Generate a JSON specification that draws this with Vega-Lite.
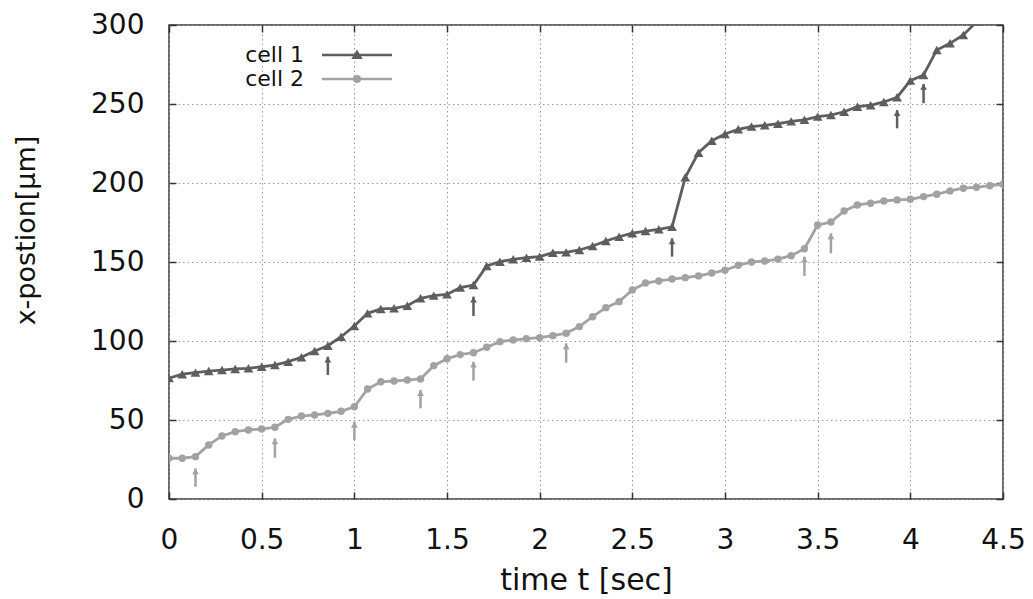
{
  "$schema": "https://vega.github.io/schema/vega-lite/v6.json",
  "width": 834,
  "height": 474,
  "autosize": {"type": "none"},
  "padding": {"left": 169, "top": 25, "right": 30, "bottom": 100},
  "background": "white",
  "config": {
    "view": {"stroke": "#3a3a3a", "strokeWidth": 1.5},
    "font": "DejaVu Sans",
    "axis": {
      "labelFont": "DejaVu Sans",
      "labelFontSize": 28,
      "labelColor": "#111",
      "labelFlush": false,
      "titleFont": "DejaVu Sans",
      "titleFontSize": 28,
      "titleFontWeight": "normal",
      "titleColor": "#111",
      "domain": false,
      "tickColor": "#333",
      "tickWidth": 1.5,
      "tickSize": -7,
      "gridColor": "#9a9a9a",
      "gridDash": [1.5, 3],
      "gridWidth": 1
    }
  },
  "resolve": {"axis": {"x": "independent", "y": "independent"}},
  "datasets": {
    "pos": [
      {"t": 0, "x": 76.5, "cell": "cell 1"},
      {"t": 0.0714, "x": 79, "cell": "cell 1"},
      {"t": 0.1429, "x": 80, "cell": "cell 1"},
      {"t": 0.2143, "x": 81, "cell": "cell 1"},
      {"t": 0.2857, "x": 81.6, "cell": "cell 1"},
      {"t": 0.3571, "x": 82.3, "cell": "cell 1"},
      {"t": 0.4286, "x": 82.7, "cell": "cell 1"},
      {"t": 0.5, "x": 83.7, "cell": "cell 1"},
      {"t": 0.5714, "x": 84.8, "cell": "cell 1"},
      {"t": 0.6429, "x": 86.9, "cell": "cell 1"},
      {"t": 0.7143, "x": 89.7, "cell": "cell 1"},
      {"t": 0.7857, "x": 93.7, "cell": "cell 1"},
      {"t": 0.8571, "x": 97, "cell": "cell 1"},
      {"t": 0.9286, "x": 102.7, "cell": "cell 1"},
      {"t": 1, "x": 109.5, "cell": "cell 1"},
      {"t": 1.0714, "x": 117.5, "cell": "cell 1"},
      {"t": 1.1429, "x": 120.3, "cell": "cell 1"},
      {"t": 1.2143, "x": 120.7, "cell": "cell 1"},
      {"t": 1.2857, "x": 122.3, "cell": "cell 1"},
      {"t": 1.3571, "x": 127, "cell": "cell 1"},
      {"t": 1.4286, "x": 128.7, "cell": "cell 1"},
      {"t": 1.5, "x": 129.5, "cell": "cell 1"},
      {"t": 1.5714, "x": 133.8, "cell": "cell 1"},
      {"t": 1.6429, "x": 135.4, "cell": "cell 1"},
      {"t": 1.7143, "x": 147.5, "cell": "cell 1"},
      {"t": 1.7857, "x": 150.2, "cell": "cell 1"},
      {"t": 1.8571, "x": 151.7, "cell": "cell 1"},
      {"t": 1.9286, "x": 152.7, "cell": "cell 1"},
      {"t": 2, "x": 153.4, "cell": "cell 1"},
      {"t": 2.0714, "x": 155.9, "cell": "cell 1"},
      {"t": 2.1429, "x": 156.1, "cell": "cell 1"},
      {"t": 2.2143, "x": 157.6, "cell": "cell 1"},
      {"t": 2.2857, "x": 160.1, "cell": "cell 1"},
      {"t": 2.3571, "x": 163.3, "cell": "cell 1"},
      {"t": 2.4286, "x": 166, "cell": "cell 1"},
      {"t": 2.5, "x": 168.2, "cell": "cell 1"},
      {"t": 2.5714, "x": 169.6, "cell": "cell 1"},
      {"t": 2.6429, "x": 170.7, "cell": "cell 1"},
      {"t": 2.7143, "x": 172.3, "cell": "cell 1"},
      {"t": 2.7857, "x": 203.6, "cell": "cell 1"},
      {"t": 2.8571, "x": 219.2, "cell": "cell 1"},
      {"t": 2.9286, "x": 226.8, "cell": "cell 1"},
      {"t": 3, "x": 231, "cell": "cell 1"},
      {"t": 3.0714, "x": 234, "cell": "cell 1"},
      {"t": 3.1429, "x": 235.7, "cell": "cell 1"},
      {"t": 3.2143, "x": 236.5, "cell": "cell 1"},
      {"t": 3.2857, "x": 237.5, "cell": "cell 1"},
      {"t": 3.3571, "x": 239, "cell": "cell 1"},
      {"t": 3.4286, "x": 240, "cell": "cell 1"},
      {"t": 3.5, "x": 242, "cell": "cell 1"},
      {"t": 3.5714, "x": 243, "cell": "cell 1"},
      {"t": 3.6429, "x": 245.1, "cell": "cell 1"},
      {"t": 3.7143, "x": 248.3, "cell": "cell 1"},
      {"t": 3.7857, "x": 249.2, "cell": "cell 1"},
      {"t": 3.8571, "x": 251.3, "cell": "cell 1"},
      {"t": 3.9286, "x": 254.3, "cell": "cell 1"},
      {"t": 4, "x": 264.8, "cell": "cell 1"},
      {"t": 4.0714, "x": 268.4, "cell": "cell 1"},
      {"t": 4.1429, "x": 284.2, "cell": "cell 1"},
      {"t": 4.2143, "x": 288.4, "cell": "cell 1"},
      {"t": 4.2857, "x": 293.7, "cell": "cell 1"},
      {"t": 4.3571, "x": 302, "cell": "cell 1"},
      {"t": 0, "x": 25.8, "cell": "cell 2"},
      {"t": 0.0714, "x": 25.8, "cell": "cell 2"},
      {"t": 0.1429, "x": 26.8, "cell": "cell 2"},
      {"t": 0.2143, "x": 34.2, "cell": "cell 2"},
      {"t": 0.2857, "x": 39.9, "cell": "cell 2"},
      {"t": 0.3571, "x": 42.6, "cell": "cell 2"},
      {"t": 0.4286, "x": 43.7, "cell": "cell 2"},
      {"t": 0.5, "x": 44.3, "cell": "cell 2"},
      {"t": 0.5714, "x": 45.4, "cell": "cell 2"},
      {"t": 0.6429, "x": 50.4, "cell": "cell 2"},
      {"t": 0.7143, "x": 52.5, "cell": "cell 2"},
      {"t": 0.7857, "x": 53.2, "cell": "cell 2"},
      {"t": 0.8571, "x": 54.2, "cell": "cell 2"},
      {"t": 0.9286, "x": 55.5, "cell": "cell 2"},
      {"t": 1, "x": 58.4, "cell": "cell 2"},
      {"t": 1.0714, "x": 69.6, "cell": "cell 2"},
      {"t": 1.1429, "x": 74.2, "cell": "cell 2"},
      {"t": 1.2143, "x": 74.7, "cell": "cell 2"},
      {"t": 1.2857, "x": 75.3, "cell": "cell 2"},
      {"t": 1.3571, "x": 76, "cell": "cell 2"},
      {"t": 1.4286, "x": 84.4, "cell": "cell 2"},
      {"t": 1.5, "x": 88.8, "cell": "cell 2"},
      {"t": 1.5714, "x": 91.4, "cell": "cell 2"},
      {"t": 1.6429, "x": 92.6, "cell": "cell 2"},
      {"t": 1.7143, "x": 96, "cell": "cell 2"},
      {"t": 1.7857, "x": 99.6, "cell": "cell 2"},
      {"t": 1.8571, "x": 100.6, "cell": "cell 2"},
      {"t": 1.9286, "x": 101.5, "cell": "cell 2"},
      {"t": 2, "x": 102.1, "cell": "cell 2"},
      {"t": 2.0714, "x": 103.4, "cell": "cell 2"},
      {"t": 2.1429, "x": 104.9, "cell": "cell 2"},
      {"t": 2.2143, "x": 109.1, "cell": "cell 2"},
      {"t": 2.2857, "x": 115.4, "cell": "cell 2"},
      {"t": 2.3571, "x": 121.1, "cell": "cell 2"},
      {"t": 2.4286, "x": 124.9, "cell": "cell 2"},
      {"t": 2.5, "x": 132.3, "cell": "cell 2"},
      {"t": 2.5714, "x": 136.7, "cell": "cell 2"},
      {"t": 2.6429, "x": 138, "cell": "cell 2"},
      {"t": 2.7143, "x": 139.2, "cell": "cell 2"},
      {"t": 2.7857, "x": 140.1, "cell": "cell 2"},
      {"t": 2.8571, "x": 141.2, "cell": "cell 2"},
      {"t": 2.9286, "x": 143, "cell": "cell 2"},
      {"t": 3, "x": 144.8, "cell": "cell 2"},
      {"t": 3.0714, "x": 147.9, "cell": "cell 2"},
      {"t": 3.1429, "x": 150, "cell": "cell 2"},
      {"t": 3.2143, "x": 150.6, "cell": "cell 2"},
      {"t": 3.2857, "x": 151.8, "cell": "cell 2"},
      {"t": 3.3571, "x": 154, "cell": "cell 2"},
      {"t": 3.4286, "x": 158.4, "cell": "cell 2"},
      {"t": 3.5, "x": 173.4, "cell": "cell 2"},
      {"t": 3.5714, "x": 175.3, "cell": "cell 2"},
      {"t": 3.6429, "x": 182.3, "cell": "cell 2"},
      {"t": 3.7143, "x": 186.1, "cell": "cell 2"},
      {"t": 3.7857, "x": 187.2, "cell": "cell 2"},
      {"t": 3.8571, "x": 188.6, "cell": "cell 2"},
      {"t": 3.9286, "x": 189.3, "cell": "cell 2"},
      {"t": 4, "x": 189.7, "cell": "cell 2"},
      {"t": 4.0714, "x": 191.4, "cell": "cell 2"},
      {"t": 4.1429, "x": 192.9, "cell": "cell 2"},
      {"t": 4.2143, "x": 195, "cell": "cell 2"},
      {"t": 4.2857, "x": 196.7, "cell": "cell 2"},
      {"t": 4.3571, "x": 197.3, "cell": "cell 2"},
      {"t": 4.4286, "x": 198.3, "cell": "cell 2"},
      {"t": 4.5, "x": 199.2, "cell": "cell 2"}
    ],
    "arrows": [
      {"t": 0.8571, "y0": 78.5, "y1": 90.1, "cell": "cell 1"},
      {"t": 1.6429, "y0": 115.8, "y1": 128.1, "cell": "cell 1"},
      {"t": 2.7143, "y0": 153.4, "y1": 165, "cell": "cell 1"},
      {"t": 3.9286, "y0": 234.6, "y1": 246.2, "cell": "cell 1"},
      {"t": 4.0714, "y0": 250.5, "y1": 262.7, "cell": "cell 1"},
      {"t": 0.1429, "y0": 7.8, "y1": 19.4, "cell": "cell 2"},
      {"t": 0.5714, "y0": 26.1, "y1": 38.4, "cell": "cell 2"},
      {"t": 1, "y0": 37.3, "y1": 48.9, "cell": "cell 2"},
      {"t": 1.3571, "y0": 57.4, "y1": 69, "cell": "cell 2"},
      {"t": 1.6429, "y0": 74.9, "y1": 86.9, "cell": "cell 2"},
      {"t": 2.1429, "y0": 86.3, "y1": 98.5, "cell": "cell 2"},
      {"t": 3.4286, "y0": 141.2, "y1": 153.4, "cell": "cell 2"},
      {"t": 3.5714, "y0": 155.5, "y1": 168.2, "cell": "cell 2"}
    ]
  },
  "layer": [
    {
      "data": {"name": "pos"},
      "mark": {"type": "line", "strokeWidth": 2.8, "clip": true},
      "encoding": {
        "x": {"field": "t", "type": "quantitative",
          "scale": {"domain": [0, 4.5], "nice": false, "zero": false},
          "axis": {"title": "time t [sec]", "titleFontSize": 30, "values": [0, 0.5, 1, 1.5, 2, 2.5, 3, 3.5, 4, 4.5], "format": "~g", "grid": true, "labelPadding": 34, "titlePadding": 11}},
        "y": {"field": "x", "type": "quantitative",
          "scale": {"domain": [0, 300], "nice": false},
          "axis": {"title": "x-postion[μm]", "titleFontSize": 27, "values": [0, 50, 100, 150, 200, 250, 300], "grid": true, "labelPadding": 32, "titlePadding": 50, "titleY": 205}},
        "color": {"field": "cell", "type": "nominal",
          "scale": {"domain": ["cell 1", "cell 2"], "range": ["#5e5e5e", "#a2a2a2"]},
          "legend": {
            "orient": "none", "legendX": 177, "legendY": 19, "padding": 0,
            "title": null,
            "symbolType": "M-7,0H7",
            "symbolSize": 100,
            "symbolStrokeWidth": 2.5,
            "labelAlign": "right",
            "labelOffset": -64,
            "labelFont": "DejaVu Sans",
            "labelFontSize": 22,
            "labelColor": "#111",
            "rowPadding": 2,
            "encode": {
              "symbols": {
                "update": {
                  "shape": {"signal": "datum.value === 'cell 1' ? 'M-7,0H7M-0.7,0.56L0,-0.63L0.7,0.56Z' : 'M-7,0H7M-0.56,0A0.56,0.56 0 1,0 0.56,0A0.56,0.56 0 1,0 -0.56,0Z'"},
                  "fill": {"signal": "datum.value === 'cell 1' ? '#5e5e5e' : '#a2a2a2'"},
                  "stroke": {"signal": "datum.value === 'cell 1' ? '#5e5e5e' : '#a2a2a2'"}
                }
              }
            }
          }
        }
      }
    },
    {
      "data": {"name": "pos"},
      "transform": [{"filter": "datum.cell === 'cell 1'"}],
      "mark": {"type": "point", "shape": "triangle-up", "size": 95, "filled": true, "opacity": 1, "clip": true},
      "encoding": {
        "x": {"field": "t", "type": "quantitative", "axis": null},
        "y": {"field": "x", "type": "quantitative", "axis": null},
        "color": {"field": "cell", "type": "nominal", "legend": null}
      }
    },
    {
      "data": {"name": "pos"},
      "transform": [{"filter": "datum.cell === 'cell 2'"}],
      "mark": {"type": "point", "shape": "circle", "size": 55, "filled": true, "opacity": 1, "clip": true},
      "encoding": {
        "x": {"field": "t", "type": "quantitative", "axis": null},
        "y": {"field": "x", "type": "quantitative", "axis": null},
        "color": {"field": "cell", "type": "nominal", "legend": null}
      }
    },
    {
      "data": {"name": "arrows"},
      "mark": {"type": "rule", "strokeWidth": 2.5},
      "encoding": {
        "x": {"field": "t", "type": "quantitative",
          "axis": {"orient": "top", "labels": false, "grid": false, "title": null, "values": [0, 0.5, 1, 1.5, 2, 2.5, 3, 3.5, 4, 4.5]}},
        "y": {"field": "y0", "type": "quantitative",
          "axis": {"orient": "right", "labels": false, "grid": false, "title": null, "values": [0, 50, 100, 150, 200, 250, 300]}},
        "y2": {"field": "y1"},
        "color": {"field": "cell", "type": "nominal", "legend": null}
      }
    },
    {
      "data": {"name": "arrows"},
      "mark": {"type": "point", "shape": "triangle-up", "filled": true, "opacity": 1, "size": 45, "yOffset": 3},
      "encoding": {
        "x": {"field": "t", "type": "quantitative", "axis": null},
        "y": {"field": "y1", "type": "quantitative", "axis": null},
        "color": {"field": "cell", "type": "nominal", "legend": null}
      }
    }
  ]
}
